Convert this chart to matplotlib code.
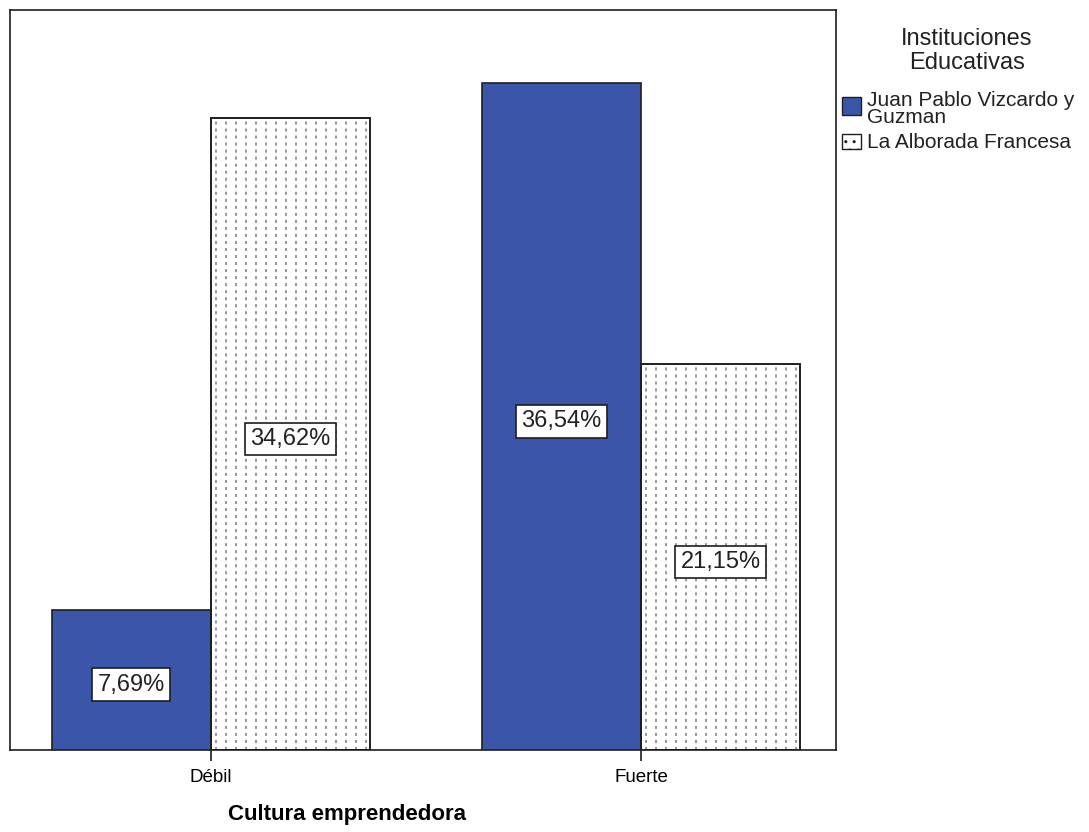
import matplotlib
matplotlib.use("Agg")
import matplotlib.pyplot as plt
import numpy as np
from matplotlib.patches import Rectangle

plt.rcParams["font.family"] = ["Liberation Sans", "DejaVu Sans"]

categorias = ["Débil", "Fuerte"]
juan_pablo = [7.69, 36.54]
alborada = [34.62, 21.15]
series = ["Juan Pablo Vizcardo y\nGuzman", "La Alborada Francesa"]

BLUE = "#3B56A8"
DOT = "#7A7A7A"
EDGE = "#1E1E1E"

W, H = 1089, 832
fig = plt.figure(figsize=(W / 100, H / 100), dpi=100)
ax = fig.add_axes([10 / W, 82 / H, 826 / W, 740 / H])

x = np.arange(len(categorias))
w = 0.37
b1 = ax.bar(x - w / 2, juan_pablo, w, color=BLUE, edgecolor=EDGE, linewidth=1.2, zorder=3)
b2 = ax.bar(x + w / 2, alborada, w, color="white", edgecolor=EDGE, linewidth=1.2, zorder=1)

# relleno punteado: columnas de trazos verticales recortadas a cada barra
for rect in b2:
    x0, x1 = rect.get_x(), rect.get_x() + rect.get_width()
    for xc in np.arange(x0 + 0.012, x1, 0.0232):
        ln = ax.plot([xc, xc], [0, rect.get_height()], color=DOT, lw=1.1,
                     linestyle=(0, (2, 2.6)), zorder=2)[0]
        ln.set_clip_path(rect)
# volver a trazar el contorno encima de los trazos
ax.bar(x + w / 2, alborada, w, fill=False, edgecolor=EDGE, linewidth=1.2, zorder=3)

ax.set_xlim(-0.467, 1.453)
ax.set_ylim(0, 40.55)
ax.set_yticks([])
ax.set_xticks(x)
ax.set_xticklabels(categorias, fontsize=13.5)
ax.tick_params(axis="x", length=8, width=1.2, pad=6, color=EDGE)
for s in ax.spines.values():
    s.set_linewidth(1.2)
    s.set_color(EDGE)

ax.set_xlabel("Cultura emprendedora", fontsize=16, fontweight="bold")
ax.xaxis.set_label_coords(0.408, -0.073)

for bars, vals in ((b1, juan_pablo), (b2, alborada)):
    for rect, v in zip(bars, vals):
        ax.annotate(f"{v:.2f}%".replace(".", ","),
                    (rect.get_x() + rect.get_width() / 2, v / 2),
                    xytext=(0, -3.5), textcoords="offset points",
                    ha="center", va="center", fontsize=17, color="#222222", zorder=5,
                    bbox=dict(boxstyle="square,pad=0.22", fc="white", ec=EDGE, lw=1.2))

# leyenda
fig.text(967 / W, 1 - 39 / H, "Instituciones", ha="center", va="center",
         fontsize=17, color="#222222")
fig.text(967 / W, 1 - 63 / H, "Educativas", ha="center", va="center",
         fontsize=17, color="#222222")
fig.patches.append(Rectangle((842 / W, 1 - 115 / H), 19 / W, 18 / H,
                             transform=fig.transFigure, fc=BLUE, ec=EDGE, lw=1))
fig.text(867 / W, 1 - 109 / H, series[0], ha="left", va="center",
         fontsize=15, color="#222222", linespacing=0.85)
fig.patches.append(Rectangle((842 / W, 1 - 149 / H), 19 / W, 15 / H,
                             transform=fig.transFigure, fc="white", ec=EDGE, lw=1,
                             hatch=".."))
fig.text(867 / W, 1 - 142 / H, series[1], ha="left", va="center",
         fontsize=15, color="#222222")

fig.savefig("out.png", dpi=100)
